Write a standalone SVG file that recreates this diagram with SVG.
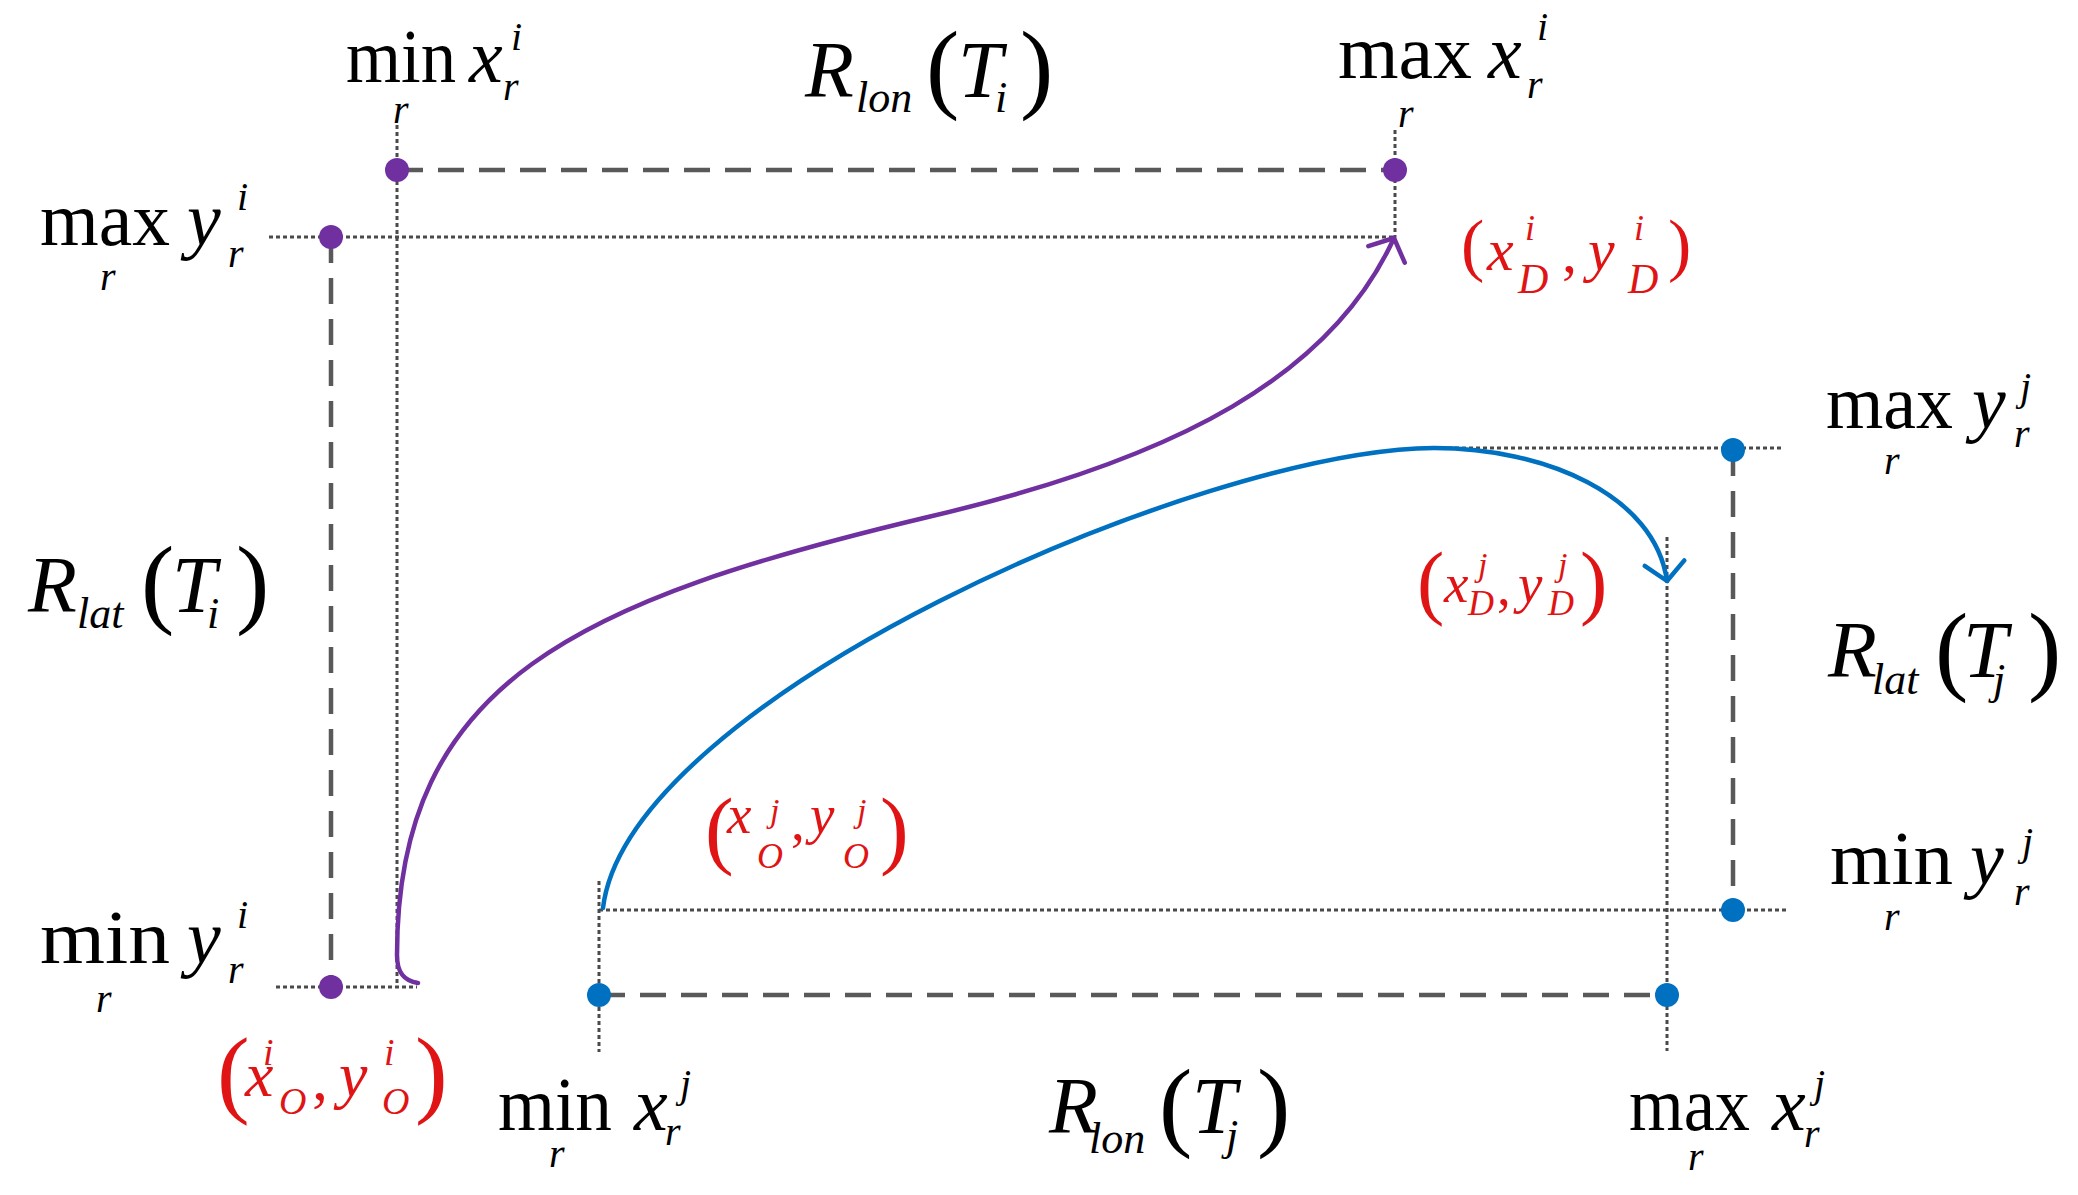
<svg xmlns="http://www.w3.org/2000/svg" width="2078" height="1195" viewBox="0 0 2078 1195">
<style>
text { font-family: "Liberation Serif", "Times New Roman", serif; fill: #000; }
.m { font-size: 76px; }
.it { font-style: italic; }
.big { font-size: 80px; font-style: italic; }
.s { font-size: 40px; font-style: italic; }
.sl { font-size: 44px; font-style: italic; }
.par { font-size: 100px; }
.red { fill: #E01414; }
.dash { stroke: #595959; stroke-width: 4.5; stroke-dasharray: 26 15; fill: none; }
.dot { stroke: #4a4a4a; stroke-width: 3; stroke-dasharray: 4 3; fill: none; }
.pdot { fill: #7030A0; }
.bdot { fill: #0070C0; }
.pc { stroke: #7030A0; stroke-width: 4.5; fill: none; stroke-linecap: round; }
.bc { stroke: #0070C0; stroke-width: 4.5; fill: none; stroke-linecap: round; }
</style>
<defs>
<marker id="ap" viewBox="-30 -30 40 60" markerWidth="40" markerHeight="60" refX="0" refY="0" orient="auto" markerUnits="userSpaceOnUse">
<path d="M -18 -20 L 0 0 L -18 20" fill="none" stroke="#7030A0" stroke-width="4.5" stroke-linejoin="round" stroke-linecap="round"/>
</marker>
<marker id="ab" viewBox="-30 -30 40 60" markerWidth="40" markerHeight="60" refX="0" refY="0" orient="auto" markerUnits="userSpaceOnUse">
<path d="M -18 -20 L 0 0 L -18 20" fill="none" stroke="#0070C0" stroke-width="4.5" stroke-linejoin="round" stroke-linecap="round"/>
</marker>
</defs>
<rect width="2078" height="1195" fill="#fff"/>

<g id="connectors">
  <!-- dotted guide lines -->
  <line class="dot" x1="269" y1="237" x2="1395" y2="237"/>
  <line class="dot" x1="397" y1="125" x2="397" y2="987"/>
  <line class="dot" x1="276" y1="987" x2="417" y2="987"/>
  <line class="dot" x1="1395" y1="130" x2="1395" y2="237"/>
  <line class="dot" x1="1434" y1="448" x2="1782" y2="448"/>
  <line class="dot" x1="1667" y1="537" x2="1667" y2="1051"/>
  <line class="dot" x1="599" y1="910" x2="1789" y2="910"/>
  <line class="dot" x1="599" y1="881" x2="599" y2="1052"/>
  <!-- dashed range lines -->
  <line class="dash" x1="397" y1="170" x2="1395" y2="170"/>
  <line class="dash" x1="331" y1="237" x2="331" y2="987"/>
  <line class="dash" x1="1733" y1="450" x2="1733" y2="910"/>
  <line class="dash" x1="599" y1="995" x2="1667" y2="995"/>
  <!-- trajectories -->
  <path class="pc" marker-end="url(#ap)" d="M 418 983 C 404 981 397 973 397 955 C 397 680 580 600 928 517 C 1181 458 1332 374 1394 238"/>
  <path class="bc" marker-end="url(#ab)" d="M 603 908 C 628 700 1200 450 1434 448 C 1545 448 1655 495 1667 581"/>
</g>

<g id="dot-min-x-i"><circle class="pdot" cx="397" cy="170" r="12"/></g>
<g id="dot-max-x-i"><circle class="pdot" cx="1395" cy="170" r="12"/></g>
<g id="dot-max-y-i"><circle class="pdot" cx="331" cy="237" r="12"/></g>
<g id="dot-min-y-i"><circle class="pdot" cx="331" cy="987" r="12"/></g>
<g id="dot-max-y-j"><circle class="bdot" cx="1733" cy="450" r="12"/></g>
<g id="dot-min-y-j"><circle class="bdot" cx="1733" cy="910" r="12"/></g>
<g id="dot-min-x-j"><circle class="bdot" cx="599" cy="995" r="12"/></g>
<g id="dot-max-x-j"><circle class="bdot" cx="1667" cy="995" r="12"/></g>

<g id="label-min-x-i">
  <text class="m" x="346" y="82" textLength="110" lengthAdjust="spacingAndGlyphs">min</text>
  <text class="m it" x="469" y="82">x</text>
  <text class="s" x="511" y="50">i</text>
  <text class="s" x="503" y="100">r</text>
  <text class="s" x="393" y="123">r</text>
</g>
<g id="label-max-y-i">
  <text class="m" x="40" y="245" textLength="130" lengthAdjust="spacingAndGlyphs">max</text>
  <text class="m it" x="187" y="245">y</text>
  <text class="s" x="237" y="210">i</text>
  <text class="s" x="228" y="267">r</text>
  <text class="s" x="100" y="290">r</text>
</g>
<g id="label-R-lon-Ti">
  <text class="big" x="805" y="97">R</text>
  <text class="sl" x="856" y="112">lon</text>
  <text class="par" x="926" y="100">(</text>
  <text class="big" x="958" y="97">T</text>
  <text class="sl" x="995" y="112">i</text>
  <text class="par" x="1020" y="100">)</text>
</g>
<g id="label-max-x-i">
  <text class="m" x="1338" y="78" textLength="134" lengthAdjust="spacingAndGlyphs">max</text>
  <text class="m it" x="1488" y="78">x</text>
  <text class="s" x="1537" y="40">i</text>
  <text class="s" x="1527" y="98">r</text>
  <text class="s" x="1398" y="127">r</text>
</g>
<g id="label-D-i">
  <text class="red" style="font-size:70px" x="1461" y="268">(</text>
  <text class="red it" style="font-size:60px" x="1487" y="270">x</text>
  <text class="red it" style="font-size:36px" x="1525" y="240">i</text>
  <text class="red it" style="font-size:42px" x="1518" y="293">D</text>
  <text class="red" style="font-size:60px" x="1562" y="272">,</text>
  <text class="red it" style="font-size:60px" x="1588" y="270">y</text>
  <text class="red it" style="font-size:36px" x="1634" y="240">i</text>
  <text class="red it" style="font-size:42px" x="1628" y="293">D</text>
  <text class="red" style="font-size:70px" x="1668" y="268">)</text>
</g>
<g id="label-max-y-j">
  <text class="m" x="1826" y="428" textLength="127" lengthAdjust="spacingAndGlyphs">max</text>
  <text class="m it" x="1972" y="428">y</text>
  <text class="s" x="2020" y="400">j</text>
  <text class="s" x="2014" y="447">r</text>
  <text class="s" x="1884" y="474">r</text>
</g>
<g id="label-R-lat-Tj">
  <text class="big" x="1828" y="677">R</text>
  <text class="sl" x="1872" y="694">lat</text>
  <text class="par" x="1935" y="682">(</text>
  <text class="big" x="1963" y="677">T</text>
  <text class="sl" x="1993" y="694">j</text>
  <text class="par" x="2028" y="682">)</text>
</g>
<g id="label-min-y-j">
  <text class="m" x="1830" y="884" textLength="123" lengthAdjust="spacingAndGlyphs">min</text>
  <text class="m it" x="1970" y="884">y</text>
  <text class="s" x="2022" y="855">j</text>
  <text class="s" x="2014" y="905">r</text>
  <text class="s" x="1884" y="930">r</text>
</g>
<g id="label-R-lat-Ti">
  <text class="big" x="28" y="612">R</text>
  <text class="sl" x="77" y="628">lat</text>
  <text class="par" x="141" y="615">(</text>
  <text class="big" x="172" y="612">T</text>
  <text class="sl" x="207" y="628">i</text>
  <text class="par" x="236" y="615">)</text>
</g>
<g id="label-min-y-i">
  <text class="m" x="40" y="963" textLength="130" lengthAdjust="spacingAndGlyphs">min</text>
  <text class="m it" x="187" y="963">y</text>
  <text class="s" x="237" y="928">i</text>
  <text class="s" x="228" y="983">r</text>
  <text class="s" x="96" y="1012">r</text>
</g>
<g id="label-O-i">
  <text class="red" style="font-size:98px" x="217" y="1105">(</text>
  <text class="red it" style="font-size:64px" x="245" y="1096">x</text>
  <text class="red it" style="font-size:38px" x="263" y="1065">i</text>
  <text class="red it" style="font-size:38px" x="279" y="1114">O</text>
  <text class="red" style="font-size:64px" x="312" y="1100">,</text>
  <text class="red it" style="font-size:64px" x="339" y="1096">y</text>
  <text class="red it" style="font-size:38px" x="384" y="1065">i</text>
  <text class="red it" style="font-size:38px" x="382" y="1114">O</text>
  <text class="red" style="font-size:98px" x="415" y="1105">)</text>
</g>
<g id="label-min-x-j">
  <text class="m" x="498" y="1130" textLength="114" lengthAdjust="spacingAndGlyphs">min</text>
  <text class="m it" x="634" y="1130">x</text>
  <text class="s" x="680" y="1097">j</text>
  <text class="s" x="665" y="1145">r</text>
  <text class="s" x="549" y="1167">r</text>
</g>
<g id="label-R-lon-Tj">
  <text class="big" x="1049" y="1133">R</text>
  <text class="sl" x="1089" y="1153">lon</text>
  <text class="par" x="1159" y="1138">(</text>
  <text class="big" x="1192" y="1133">T</text>
  <text class="sl" x="1226" y="1150">j</text>
  <text class="par" x="1257" y="1138">)</text>
</g>
<g id="label-max-x-j">
  <text class="m" x="1629" y="1130" textLength="121" lengthAdjust="spacingAndGlyphs">max</text>
  <text class="m it" x="1772" y="1130">x</text>
  <text class="s" x="1814" y="1097">j</text>
  <text class="s" x="1804" y="1147">r</text>
  <text class="s" x="1688" y="1170">r</text>
</g>
<g id="label-D-j">
  <text class="red" style="font-size:82px" x="1417" y="609">(</text>
  <text class="red it" style="font-size:55px" x="1444" y="602">x</text>
  <text class="red it" style="font-size:34px" x="1478" y="576">j</text>
  <text class="red it" style="font-size:36px" x="1468" y="615">D</text>
  <text class="red" style="font-size:55px" x="1497" y="605">,</text>
  <text class="red it" style="font-size:55px" x="1518" y="602">y</text>
  <text class="red it" style="font-size:34px" x="1558" y="576">j</text>
  <text class="red it" style="font-size:36px" x="1548" y="615">D</text>
  <text class="red" style="font-size:82px" x="1580" y="609">)</text>
</g>
<g id="label-O-j">
  <text class="red" style="font-size:86px" x="705" y="858">(</text>
  <text class="red it" style="font-size:55px" x="727" y="833">x</text>
  <text class="red it" style="font-size:34px" x="770" y="822">j</text>
  <text class="red it" style="font-size:36px" x="757" y="868">O</text>
  <text class="red" style="font-size:55px" x="791" y="840">,</text>
  <text class="red it" style="font-size:55px" x="810" y="833">y</text>
  <text class="red it" style="font-size:34px" x="857" y="822">j</text>
  <text class="red it" style="font-size:36px" x="843" y="868">O</text>
  <text class="red" style="font-size:86px" x="880" y="858">)</text>
</g>
</svg>
